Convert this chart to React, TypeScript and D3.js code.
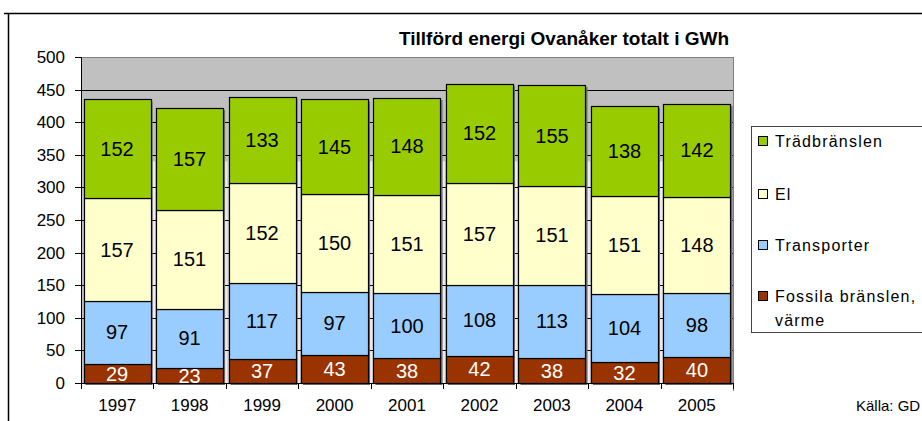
import React from "react";
import * as d3 from "d3";

const years = ["1997", "1998", "1999", "2000", "2001", "2002", "2003", "2004", "2005"];
const fossila = [29, 23, 37, 43, 38, 42, 38, 32, 40];
const transporter = [97, 91, 117, 97, 100, 108, 113, 104, 98];
const el = [157, 151, 152, 150, 151, 157, 151, 151, 148];
const trad = [152, 157, 133, 145, 148, 152, 155, 138, 142];
const yTicks = [0, 50, 100, 150, 200, 250, 300, 350, 400, 450, 500];

const seriesNames = ["Fossila bränslen, värme", "Transporter", "El", "Trädbränslen"];
const seriesColors = ["#993300", "#99CCFF", "#FFFFCC", "#99CC00"];
const labelColors = ["#ffffff", "#000000", "#000000", "#000000"];
const legendOrder = [3, 2, 1, 0];

const W = 922;
const H = 421;
const left = 81;
const right = 733;
const top = 57;
const bottom = 383;
const FONT = "'Liberation Sans', Arial, sans-serif";

export default function App() {
  const seriesVals = [fossila, transporter, el, trad];
  const rows = years.map((y, i) => ({ year: y, s0: fossila[i], s1: transporter[i], s2: el[i], s3: trad[i] }));
  const stack = d3.stack<any>().keys(["s0", "s1", "s2", "s3"])(rows);
  const x = d3.scaleBand().domain(years).range([left, right]).paddingInner(0.075).paddingOuter(0.035);
  const y = d3.scaleLinear().domain([0, 500]).range([bottom, top]);
  const bw = x.bandwidth();
  const step = x.step();

  return (
    <svg width={W} height={H} style={{ position: "absolute", left: 0, top: 0, background: "#fff" }} fontFamily={FONT}>
      {/* outer frame */}
      <line x1={4} x2={W} y1={13.5} y2={13.5} stroke="#000" strokeWidth={1.5} />
      <line x1={8.5} x2={8.5} y1={13} y2={H} stroke="#000" strokeWidth={1.5} />

      {/* title */}
      <text x={564} y={45} textAnchor="middle" fontSize={19} fontWeight="bold" fill="#000">
        Tillförd energi Ovanåker totalt i GWh
      </text>

      {/* plot area */}
      <rect x={left} y={top} width={right - left} height={bottom - top} fill="#C0C0C0" />
      {years.slice(0, -1).map((yr, i) => {
        const gx = (x(yr) as number) + bw;
        const gw = step - bw;
        return (
          <rect key={"gap" + i} x={gx + 2} y={y(340)} width={Math.max(gw - 3, 0)} height={bottom - y(340)} fill="#ECECEC" />
        );
      })}
      {yTicks.map((t) => (
        <line key={"g" + t} x1={left} x2={right} y1={Math.round(y(t)) + 0.5} y2={Math.round(y(t)) + 0.5} stroke="#000" strokeWidth={1} />
      ))}
      <line x1={left} x2={right} y1={top + 0.5} y2={top + 0.5} stroke="#808080" />
      <line x1={right + 0.5} x2={right + 0.5} y1={top} y2={bottom + 8} stroke="#808080" />

      {/* shadows */}
      {years.map((yr, i) => {
        const total = fossila[i] + transporter[i] + el[i] + trad[i];
        return (
          <rect key={"sh" + yr} x={(x(yr) as number) + 2} y={y(total) + 2} width={bw} height={bottom - y(total)} fill="#6f6f6f" />
        );
      })}

      {/* bars */}
      {stack.map((layer, si) => (
        <g key={"s" + si}>
          {layer.map((d, i) => (
            <rect
              key={i}
              x={Math.round(x(years[i]) as number) + 0.5}
              y={Math.round(y(d[1])) + 0.5}
              width={Math.round(bw)}
              height={Math.round(y(d[0])) - Math.round(y(d[1]))}
              fill={seriesColors[si]}
              stroke="#000"
              strokeWidth={1.2}
            />
          ))}
        </g>
      ))}

      {/* value labels */}
      {stack.map((layer, si) => (
        <g key={"l" + si} fontSize={20} fill={labelColors[si]} textAnchor="middle">
          {layer.map((d, i) => (
            <text key={i} x={(x(years[i]) as number) + bw / 2} y={(y(d[0]) + y(d[1])) / 2 + 7}>
              {seriesVals[si][i]}
            </text>
          ))}
        </g>
      ))}

      {/* y axis */}
      <line x1={left + 0.5} x2={left + 0.5} y1={top} y2={bottom} stroke="#000" />
      {yTicks.map((t) => (
        <g key={"yt" + t}>
          <line x1={left - 6} x2={left} y1={Math.round(y(t)) + 0.5} y2={Math.round(y(t)) + 0.5} stroke="#000" />
          <text x={65} y={y(t) + 6} textAnchor="end" fontSize={17} fill="#000">
            {t}
          </text>
        </g>
      ))}

      {/* x axis */}
      <line x1={left} x2={right} y1={bottom + 0.5} y2={bottom + 0.5} stroke="#000" />
      {d3.range(years.length + 1).map((k) => {
        const tx = Math.round(left + (k * (right - left)) / years.length) + 0.5;
        return <line key={"xt" + k} x1={tx} x2={tx} y1={bottom} y2={bottom + 6} stroke="#000" />;
      })}
      {years.map((yr) => (
        <text key={"xl" + yr} x={left + (years.indexOf(yr) + 0.5) * ((right - left) / years.length)} y={411} textAnchor="middle" fontSize={17} fill="#000">
          {yr}
        </text>
      ))}

      {/* legend */}
      <rect x={751.5} y={126.5} width={200} height={206} fill="#fff" stroke="#444" />
      {legendOrder.map((si, k) => {
        const cy = [141, 194, 245, 296][k];
        const name = seriesNames[si];
        const lines = si === 0 ? ["Fossila bränslen,", "värme"] : [name];
        return (
          <g key={"lg" + si}>
            <rect x={758.5} y={cy - 4.5} width={9} height={9} fill={seriesColors[si]} stroke="#000" />
            {lines.map((ln, j) => (
              <text key={j} x={775} y={cy + 6 + j * 24} fontSize={16} letterSpacing={1.2} fill="#000">
                {ln}
              </text>
            ))}
          </g>
        );
      })}

      {/* source */}
      <text x={856} y={411} fontSize={15} fill="#000">
        Källa: GD
      </text>
    </svg>
  );
}
